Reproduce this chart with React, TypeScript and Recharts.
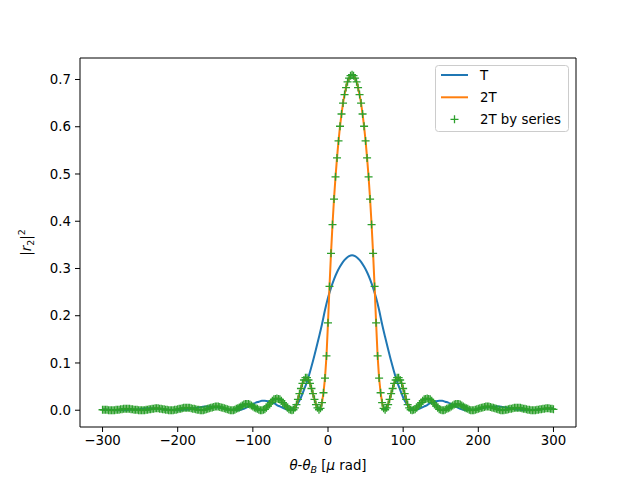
import {
  ComposedChart,
  Label,
  Line,
  ReferenceArea,
  Scatter,
  XAxis,
  YAxis,
} from "recharts";

// deviation angle grid [µrad], every 2 µrad
const ANGLE_FINE = [
  -300, -298, -296, -294, -292, -290, -288, -286, -284, -282,
  -280, -278, -276, -274, -272, -270, -268, -266, -264, -262,
  -260, -258, -256, -254, -252, -250, -248, -246, -244, -242,
  -240, -238, -236, -234, -232, -230, -228, -226, -224, -222,
  -220, -218, -216, -214, -212, -210, -208, -206, -204, -202,
  -200, -198, -196, -194, -192, -190, -188, -186, -184, -182,
  -180, -178, -176, -174, -172, -170, -168, -166, -164, -162,
  -160, -158, -156, -154, -152, -150, -148, -146, -144, -142,
  -140, -138, -136, -134, -132, -130, -128, -126, -124, -122,
  -120, -118, -116, -114, -112, -110, -108, -106, -104, -102,
  -100, -98, -96, -94, -92, -90, -88, -86, -84, -82,
  -80, -78, -76, -74, -72, -70, -68, -66, -64, -62,
  -60, -58, -56, -54, -52, -50, -48, -46, -44, -42,
  -40, -38, -36, -34, -32, -30, -28, -26, -24, -22,
  -20, -18, -16, -14, -12, -10, -8, -6, -4, -2,
  0, 2, 4, 6, 8, 10, 12, 14, 16, 18,
  20, 22, 24, 26, 28, 30, 32, 34, 36, 38,
  40, 42, 44, 46, 48, 50, 52, 54, 56, 58,
  60, 62, 64, 66, 68, 70, 72, 74, 76, 78,
  80, 82, 84, 86, 88, 90, 92, 94, 96, 98,
  100, 102, 104, 106, 108, 110, 112, 114, 116, 118,
  120, 122, 124, 126, 128, 130, 132, 134, 136, 138,
  140, 142, 144, 146, 148, 150, 152, 154, 156, 158,
  160, 162, 164, 166, 168, 170, 172, 174, 176, 178,
  180, 182, 184, 186, 188, 190, 192, 194, 196, 198,
  200, 202, 204, 206, 208, 210, 212, 214, 216, 218,
  220, 222, 224, 226, 228, 230, 232, 234, 236, 238,
  240, 242, 244, 246, 248, 250, 252, 254, 256, 258,
  260, 262, 264, 266, 268, 270, 272, 274, 276, 278,
  280, 282, 284, 286, 288, 290, 292, 294, 296, 298,
  300,
];

// T curve is sampled on every other angle (4 µrad)
const ANGLE_COARSE = ANGLE_FINE.filter((_, i) => i % 2 === 0);

// |r2|^2 for thickness 2T (also used for the "by series" markers)
const R_2T = [
  0.001, 0.001, 0.001, 0.001, 0, 0, 0, 0, 0, 0.001,
  0.001, 0.001, 0.002, 0.002, 0.003, 0.003, 0.003, 0.003, 0.003, 0.002,
  0.002, 0.001, 0.001, 0.001, 0, 0, 0, 0, 0, 0.001,
  0.001, 0.002, 0.002, 0.003, 0.003, 0.004, 0.004, 0.004, 0.003, 0.003,
  0.002, 0.002, 0.001, 0.001, 0, 0, 0, 0, 0.001, 0.001,
  0.002, 0.003, 0.003, 0.004, 0.005, 0.005, 0.005, 0.005, 0.005, 0.004,
  0.003, 0.003, 0.002, 0.001, 0.001, 0, 0, 0, 0.001, 0.002,
  0.003, 0.004, 0.005, 0.006, 0.007, 0.008, 0.008, 0.008, 0.007, 0.006,
  0.005, 0.004, 0.003, 0.002, 0.001, 0, 0, 0, 0.001, 0.003,
  0.004, 0.006, 0.008, 0.01, 0.012, 0.013, 0.013, 0.013, 0.012, 0.01,
  0.008, 0.006, 0.004, 0.003, 0.001, 0, 0, 0.001, 0.002, 0.005,
  0.009, 0.013, 0.016, 0.02, 0.023, 0.024, 0.025, 0.024, 0.023, 0.02,
  0.016, 0.013, 0.009, 0.005, 0.002, 0.001, 0, 0.001, 0.005, 0.012,
  0.023, 0.035, 0.046, 0.057, 0.064, 0.069, 0.069, 0.064, 0.057, 0.046,
  0.035, 0.023, 0.012, 0.005, 0.001, 0.004, 0.016, 0.037, 0.068, 0.115,
  0.185, 0.262, 0.332, 0.393, 0.447, 0.494, 0.534, 0.57, 0.601, 0.627,
  0.65, 0.668, 0.683, 0.695, 0.703, 0.708, 0.71, 0.708, 0.703, 0.695,
  0.683, 0.668, 0.65, 0.627, 0.601, 0.57, 0.534, 0.494, 0.447, 0.393,
  0.332, 0.262, 0.185, 0.115, 0.068, 0.037, 0.016, 0.004, 0.001, 0.005,
  0.012, 0.023, 0.035, 0.046, 0.057, 0.064, 0.069, 0.069, 0.064, 0.057,
  0.046, 0.035, 0.023, 0.012, 0.005, 0.001, 0, 0.001, 0.002, 0.005,
  0.009, 0.013, 0.016, 0.02, 0.023, 0.024, 0.025, 0.024, 0.023, 0.02,
  0.016, 0.013, 0.009, 0.005, 0.002, 0.001, 0, 0, 0.001, 0.003,
  0.004, 0.006, 0.008, 0.01, 0.012, 0.013, 0.013, 0.013, 0.012, 0.01,
  0.008, 0.006, 0.004, 0.003, 0.001, 0, 0, 0, 0.001, 0.002,
  0.003, 0.004, 0.005, 0.006, 0.007, 0.008, 0.008, 0.008, 0.007, 0.006,
  0.005, 0.004, 0.003, 0.002, 0.001, 0, 0, 0, 0.001, 0.001,
  0.002, 0.003, 0.003, 0.004, 0.005, 0.005, 0.005, 0.005, 0.005, 0.004,
  0.003, 0.003, 0.002, 0.001, 0.001, 0, 0, 0, 0, 0.001,
  0.001, 0.002, 0.002, 0.003, 0.003, 0.004, 0.004, 0.004, 0.003, 0.003,
  0.002,
];

// |r2|^2 for thickness T
const R_T = [
  0.002, 0.002, 0.001, 0.001, 0, 0, 0, 0, 0, 0.001,
  0.001, 0.002, 0.002, 0.003, 0.004, 0.004, 0.004, 0.004, 0.004, 0.003,
  0.002, 0.002, 0.001, 0.001, 0, 0, 0, 0.001, 0.001, 0.002,
  0.004, 0.005, 0.006, 0.007, 0.008, 0.008, 0.008, 0.007, 0.006, 0.005,
  0.004, 0.002, 0.001, 0.001, 0, 0, 0.001, 0.003, 0.006, 0.01,
  0.013, 0.016, 0.018, 0.02, 0.02, 0.019, 0.017, 0.015, 0.011, 0.008,
  0.005, 0.002, 0.001, 0.002, 0.007, 0.015, 0.027, 0.043, 0.06, 0.081,
  0.104, 0.129, 0.155, 0.182, 0.212, 0.238, 0.259, 0.277, 0.292, 0.304,
  0.314, 0.321, 0.326, 0.328, 0.326, 0.321, 0.314, 0.304, 0.292, 0.277,
  0.259, 0.238, 0.212, 0.182, 0.155, 0.129, 0.104, 0.081, 0.06, 0.043,
  0.027, 0.015, 0.007, 0.002, 0.001, 0.002, 0.005, 0.008, 0.011, 0.015,
  0.017, 0.019, 0.02, 0.02, 0.018, 0.016, 0.013, 0.01, 0.006, 0.003,
  0.001, 0, 0, 0.001, 0.001, 0.002, 0.004, 0.005, 0.006, 0.007,
  0.008, 0.008, 0.008, 0.007, 0.006, 0.005, 0.004, 0.002, 0.001, 0.001,
  0, 0, 0, 0.001, 0.001, 0.002, 0.002, 0.003, 0.004, 0.004,
  0.004,
];

const X_TICKS = [-300, -200, -100, 0, 100, 200, 300];
const Y_TICKS = [0, 0.1, 0.2, 0.3, 0.4, 0.5, 0.6, 0.7];
const X_DOMAIN: [number, number] = [-330, 330];
const Y_DOMAIN: [number, number] = [-0.0355, 0.7455];

const FONT = "'DejaVu Sans', sans-serif";
const BLUE = "#1f77b4";
const ORANGE = "#ff7f0e";
const GREEN = "#2ca02c";

const rows2T = ANGLE_FINE.map((x, i) => ({ x, r: R_2T[i] }));
const rowsT = ANGLE_COARSE.map((x, i) => ({ x, r: R_T[i] }));

const tickStyle = { fill: "#000", fontSize: 13.33, fontFamily: FONT };

function xTick(v: number): string {
  return v < 0 ? `\u2212${Math.abs(v)}` : `${v}`;
}

function PlusMarker(props: any) {
  const { cx, cy } = props;
  if (cx == null || cy == null) return null;
  return (
    <path
      d={`M${cx - 4},${cy}h8M${cx},${cy - 4}v8`}
      stroke={GREEN}
      strokeWidth={1.3}
      fill="none"
    />
  );
}

function XTitle() {
  return (
    <text x={328} y={470} textAnchor="middle" fontFamily={FONT} fontSize={13.33} fill="#000">
      <tspan fontStyle="italic">θ</tspan>
      <tspan>-</tspan>
      <tspan fontStyle="italic">θ</tspan>
      <tspan fontStyle="italic" fontSize={9.5} dy={3}>B</tspan>
      <tspan dy={-3}> [</tspan>
      <tspan fontStyle="italic">μ</tspan>
      <tspan> rad]</tspan>
    </text>
  );
}

function YTitle() {
  return (
    <text
      transform="translate(31,242.5) rotate(-90)"
      textAnchor="middle"
      fontFamily={FONT}
      fontSize={13.33}
      fill="#000"
    >
      <tspan>|</tspan>
      <tspan fontStyle="italic">r</tspan>
      <tspan fontSize={9.5} dy={3}>2</tspan>
      <tspan dy={-3}>|</tspan>
      <tspan fontSize={9.5} dy={-6}>2</tspan>
    </text>
  );
}

// matplotlib-like legend box, upper right
function LegendBox() {
  const items = [
    { label: "T", kind: "line", color: BLUE, y: 75 },
    { label: "2T", kind: "line", color: ORANGE, y: 97.3 },
    { label: "2T by series", kind: "plus", color: GREEN, y: 119.3 },
  ];
  return (
    <svg
      width={640}
      height={480}
      style={{ position: "absolute", left: 0, top: 0, pointerEvents: "none" }}
    >
      <rect x={435.5} y={65.5} width={133} height={66} rx={3} fill="rgba(255,255,255,0.8)" stroke="#cccccc" />
      {items.map((it) => (
        <g key={it.label}>
          {it.kind === "line" ? (
            <line x1={441} x2={468} y1={it.y} y2={it.y} stroke={it.color} strokeWidth={2} />
          ) : (
            <path d={`M${450.5},${it.y}h8M${454.5},${it.y - 4}v8`} stroke={it.color} strokeWidth={1.3} />
          )}
          <text x={480} y={it.y} dy="0.35em" fontFamily={FONT} fontSize={13.33} fill="#000">
            {it.label}
          </text>
        </g>
      ))}
    </svg>
  );
}

export default function App() {
  return (
    <div style={{ position: "relative", width: 640, height: 480 }}>
      <style>{"body{margin:0}"}</style>
      <ComposedChart width={640} height={480} margin={{ top: 58, right: 64, bottom: 0, left: 0 }}>
        <XAxis
          type="number"
          dataKey="x"
          domain={X_DOMAIN}
          ticks={X_TICKS}
          interval={0}
          allowDataOverflow
          tickFormatter={xTick}
          tick={tickStyle}
          tickLine={{ stroke: "#000" }}
          tickSize={5}
          tickMargin={4}
          axisLine={false}
          height={53}
        >
          <Label content={XTitle} />
        </XAxis>
        <YAxis
          type="number"
          domain={Y_DOMAIN}
          ticks={Y_TICKS}
          interval={0}
          allowDataOverflow
          tickFormatter={(v: number) => v.toFixed(1)}
          tick={tickStyle}
          tickLine={{ stroke: "#000" }}
          tickSize={5}
          tickMargin={4}
          axisLine={false}
          width={80}
        >
          <Label content={YTitle} />
        </YAxis>
        <Line
          data={rowsT}
          dataKey="r"
          type="monotone"
          stroke={BLUE}
          strokeWidth={2}
          dot={false}
          isAnimationActive={false}
        />
        <Line
          data={rows2T}
          dataKey="r"
          type="linear"
          stroke={ORANGE}
          strokeWidth={2}
          dot={false}
          isAnimationActive={false}
        />
        <Scatter
          data={rows2T}
          dataKey="r"
          shape={PlusMarker}
          isAnimationActive={false}
        />
        <ReferenceArea
          x1={X_DOMAIN[0]}
          x2={X_DOMAIN[1]}
          y1={Y_DOMAIN[0]}
          y2={Y_DOMAIN[1]}
          fill="none"
          stroke="#000"
          strokeWidth={1}
          ifOverflow="visible"
        />
      </ComposedChart>
      <LegendBox />
    </div>
  );
}
